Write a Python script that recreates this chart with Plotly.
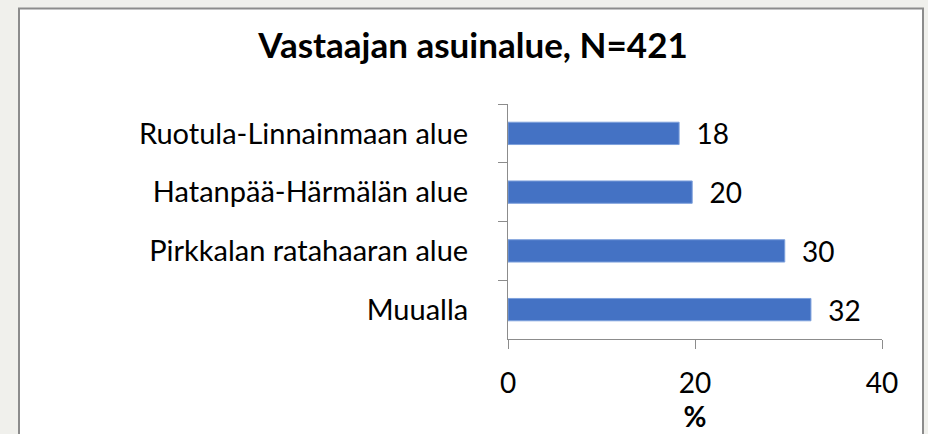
import plotly.graph_objects as go

categories = ["Ruotula-Linnainmaan alue", "Hatanpää-Härmälän alue",
              "Pirkkalan ratahaaran alue", "Muualla"]
values = [18.3, 19.7, 29.6, 32.4]
x_ticks = [0, 20, 40]

W, H = 928, 434
L, R, T, B = 508, 882, 104, 345

def px_to_paper_x(px):
    return (px - L) / (R - L)

def px_to_paper_y(py):
    return (B - py) / (B - T)

FONT = "Lato"

fig = go.Figure(go.Bar(
    y=categories, x=values, orientation="h",
    marker=dict(color="#4472C4", line=dict(color="#7da0dc", width=1)),
    texttemplate="  %{x:.0f}", textposition="outside",
    textfont=dict(family=FONT, size=28, color="#000000"),
    constraintext="none",
    cliponaxis=False,
))

fig.update_layout(
    width=W, height=H, autosize=False,
    margin=dict(l=L, r=W - R, t=T, b=H - B, pad=0),
    paper_bgcolor="#f0f0ec", plot_bgcolor="rgba(0,0,0,0)",
    bargap=0.62, showlegend=False,
    title=dict(text="<b>Vastaajan asuinalue, N=421</b>",
               x=473 / W, xanchor="center", xref="container",
               y=1 - 46 / H, yanchor="middle", yref="container",
               font=dict(family=FONT, size=35, color="#000000")),
    font=dict(family=FONT, color="#000000"),
    shapes=[dict(type="rect", xref="paper", yref="paper", layer="below",
                 x0=px_to_paper_x(19), x1=px_to_paper_x(923),
                 y0=px_to_paper_y(445), y1=px_to_paper_y(6),
                 fillcolor="#ffffff", line=dict(color="#8c8c8c", width=2))],
)

fig.update_xaxes(
    range=[0, 40], tickvals=x_ticks, ticks="outside", ticklen=9,
    tickcolor="#8c8c8c", showline=True, linecolor="#8c8c8c", linewidth=1,
    showgrid=False, zeroline=False,
    tickfont=dict(family=FONT, size=28, color="#000000"),
    ticklabelstandoff=10,
    title=dict(text="<b>%</b>", font=dict(family=FONT, size=28, color="#000000"),
               standoff=4),
)
fig.update_yaxes(
    autorange="reversed", ticks="outside", ticklen=9, tickson="boundaries",
    tickcolor="#8c8c8c", showline=True, linecolor="#8c8c8c", linewidth=1,
    showgrid=False, zeroline=False,
    tickfont=dict(family=FONT, size=29, color="#000000"),
    ticklabelstandoff=33,
)

fig.write_html("out.html", config={"displayModeBar": False},
               post_script="document.body.style.margin='0px';"
                           "document.body.style.overflow='hidden';")
